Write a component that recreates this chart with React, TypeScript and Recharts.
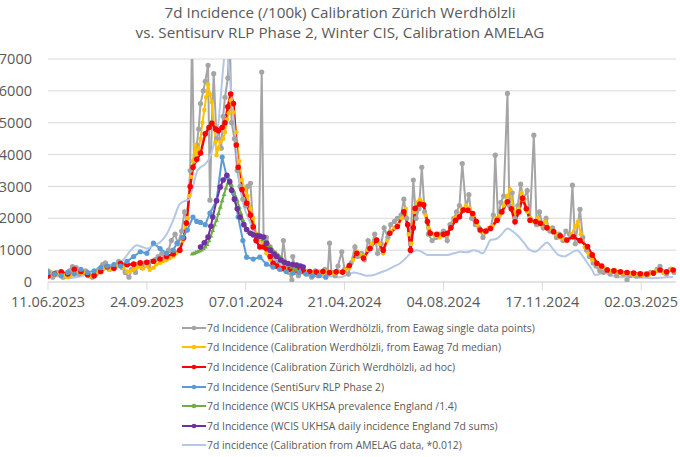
import React from 'react';
import { LineChart, Line, XAxis, YAxis, CartesianGrid } from 'recharts';

// days since 11.06.2023, value = 7d incidence per 100k
const xTicks = [0, 105, 210, 315, 420, 525, 630];
const xTickLabels = ['11.06.2023', '24.09.2023', '07.01.2024', '21.04.2024', '04.08.2024', '17.11.2024', '02.03.2025'];
const yTicks = [0, 1000, 2000, 3000, 4000, 5000, 6000, 7000];

const singlePoints: [number, number][] = [
  [0,350],[2,300],[5,150],[9,300],[12,250],[16,150],[19,200],[23,350],[26,480],[30,450],[33,250],[37,300],[40,350],[44,200],[47,150],[51,250],[54,400],[58,550],[61,600],[65,400],[68,450],[72,550],[75,650],[79,450],[82,300],[86,150],[89,400],[93,300],[96,550],[100,450],[103,600],[107,500],[110,650],[114,700],[117,800],[121,900],[124,750],[128,1000],[131,1300],[135,1500],[138,1200],[142,1600],[145,2200],[148,2000],[151,3500],[153,7800],[155,3800],[158,4300],[160,4800],[162,5600],[165,6000],[167,6300],[170,6800],[172,2570],[174,5000],[176,6540],[179,4500],[181,4800],[184,4200],[186,5200],[188,5800],[191,6400],[193,7800],[195,5000],[198,4500],[201,3500],[204,3000],[207,2600],[210,2400],[212,3000],[215,3100],[218,1700],[221,1500],[224,1400],[227,6590],[229,1300],[232,1400],[236,1100],[239,800],[243,600],[247,400],[250,1300],[253,500],[256,300],[259,60],[260,800],[263,300],[266,200],[270,400],[273,300],[277,250],[280,150],[284,350],[287,200],[291,300],[294,400],[297,250],[299,1220],[301,300],[305,200],[308,500],[312,950],[315,400],[319,250],[322,600],[326,1100],[329,800],[333,900],[336,700],[340,1300],[343,1100],[347,1500],[350,900],[354,1200],[357,1700],[361,1400],[364,1800],[368,1900],[371,2000],[375,2100],[378,2600],[381,2000],[385,1200],[388,3200],[391,2000],[394,2300],[397,3600],[400,2200],[404,1500],[408,1300],[412,1400],[416,1500],[420,1600],[424,1300],[427,1800],[431,2000],[434,2200],[437,2400],[440,3720],[444,2300],[447,2740],[450,2000],[454,1800],[458,1700],[462,1400],[466,1600],[470,1700],[473,2100],[475,3980],[478,2000],[481,2500],[484,2700],[488,5920],[490,2400],[493,2800],[496,2000],[499,2400],[502,3070],[505,2600],[509,2870],[512,2000],[516,4610],[519,1800],[522,2200],[526,1700],[529,2000],[533,1600],[536,1700],[540,1400],[543,1500],[547,1300],[550,1600],[554,1500],[557,3040],[560,1200],[565,2280],[568,1400],[572,1000],[575,800],[579,600],[582,500],[586,350],[590,300],[593,400],[597,250],[600,350],[604,200],[608,300],[611,250],[615,60],[618,200],[622,250],[625,180],[629,200],[632,250],[636,220],[640,300],[643,280],[647,400],[650,490],[654,300],[657,250],[661,400],[665,300],
];

const median7d: [number, number][] = [
  [0,250],[3,300],[7,200],[10,280],[14,250],[17,180],[21,160],[24,200],[28,300],[31,350],[35,280],[38,300],[42,200],[45,180],[49,220],[52,300],[56,350],[59,420],[63,450],[66,380],[70,400],[73,500],[77,550],[80,450],[84,330],[87,320],[91,400],[94,450],[98,480],[101,420],[105,500],[108,380],[112,450],[115,550],[119,600],[122,650],[126,690],[129,750],[133,800],[136,900],[140,1000],[143,1300],[146,1700],[148,2000],[150,2700],[152,3300],[154,3800],[156,4300],[158,4000],[160,4200],[162,4500],[164,5000],[166,5400],[168,5800],[170,6200],[172,5900],[174,5640],[176,5000],[178,4400],[179,3980],[181,4200],[183,4400],[186,4500],[188,4700],[190,5100],[192,5300],[194,5700],[197,5330],[200,4700],[203,3800],[206,3200],[209,2900],[212,2700],[215,2300],[218,2000],[221,1500],[224,1400],[228,1200],[232,900],[236,700],[240,600],[244,500],[248,420],[252,380],[256,350],[260,400],[264,380],[268,330],[272,300],[276,350],[280,280],[284,300],[288,330],[292,280],[296,320],[300,300],[304,280],[308,350],[312,300],[316,380],[320,450],[324,700],[328,950],[332,850],[336,800],[340,1000],[344,1200],[348,1350],[352,1200],[356,900],[360,1300],[364,1600],[368,1700],[372,1800],[376,2000],[380,2300],[383,1500],[386,1200],[389,2200],[392,2500],[395,2600],[398,2500],[401,2100],[404,1700],[408,1500],[412,1450],[416,1400],[420,1450],[424,1500],[428,1700],[432,2000],[436,2100],[440,2300],[444,2400],[448,2300],[452,2100],[456,1800],[460,1600],[464,1550],[468,1700],[472,1750],[476,2000],[480,2100],[484,2400],[488,2700],[491,2900],[494,2300],[497,1900],[500,2300],[503,2800],[506,2600],[509,2200],[512,2000],[516,1900],[520,2000],[524,1800],[528,1900],[532,1700],[536,1600],[540,1500],[544,1400],[548,1350],[552,1300],[556,1500],[560,1750],[563,1900],[566,1500],[570,1100],[574,900],[578,700],[582,600],[586,500],[590,450],[594,400],[598,350],[602,380],[606,300],[610,280],[614,260],[618,250],[622,230],[626,240],[630,220],[634,250],[638,230],[642,300],[646,350],[650,400],[654,300],[658,350],[662,420],[666,350],
];

const adHoc: [number, number][] = [
  [0,190],[7,260],[14,320],[21,250],[28,400],[35,330],[42,230],[49,200],[56,330],[63,480],[70,430],[77,580],[84,540],[91,560],[98,600],[105,620],[112,650],[119,720],[126,800],[133,880],[140,1000],[144,1380],[147,1850],[151,3000],[154,3600],[158,3850],[162,4050],[167,4650],[171,4850],[174,4980],[178,4800],[181,4750],[185,4850],[188,5000],[191,5500],[194,5900],[197,5600],[200,4300],[202,3600],[206,2900],[211,2470],[215,2100],[218,1730],[221,1300],[225,1100],[229,1100],[232,1050],[236,800],[239,590],[243,500],[250,430],[257,400],[264,380],[271,350],[278,330],[285,310],[292,330],[299,300],[306,320],[313,310],[320,520],[328,900],[335,750],[342,1050],[349,1320],[356,1000],[363,1530],[371,1740],[378,2200],[382,1800],[385,1000],[388,1700],[390,2310],[395,2450],[399,2420],[403,1900],[406,1530],[413,1500],[420,1500],[424,1530],[428,1700],[433,1940],[437,2050],[441,2260],[446,2250],[451,2150],[455,1900],[459,1630],[465,1600],[470,1680],[477,1940],[482,2200],[488,2520],[492,2300],[496,1890],[500,2200],[504,2630],[508,2300],[512,1940],[518,1900],[523,1840],[530,1700],[537,1580],[544,1450],[551,1320],[558,1420],[565,1300],[573,1110],[578,850],[583,590],[588,500],[594,375],[601,350],[608,320],[615,300],[622,280],[629,260],[636,250],[643,280],[650,375],[657,320],[664,375],
];

const sentiSurv: [number, number][] = [
  [0,300],[7,250],[14,200],[21,300],[28,250],[35,400],[42,300],[49,350],[56,450],[63,500],[70,550],[77,500],[84,650],[91,800],[98,950],[105,900],[112,1220],[119,1050],[126,900],[133,1000],[137,1220],[143,1400],[148,1630],[154,2040],[158,1900],[162,1870],[167,1800],[172,2160],[179,2570],[185,3920],[190,3290],[197,2790],[202,2040],[207,1300],[211,780],[218,720],[225,780],[232,560],[239,470],[246,400],[253,330],[260,280],[267,300],[274,250],[281,200],[288,200],[295,150],
];

const wcisPrevalence: [number, number][] = [
  [153,880],[155,900],[157,930],[159,950],[161,980],[163,1010],[165,1050],[167,1100],[169,1180],[171,1300],[173,1450],[175,1620],[177,1800],[179,1940],[181,2150],[183,2350],[185,2550],[187,2750],[189,2950],[191,3100],[193,3200],[195,3050],[197,2850],[199,2700],[201,2570],[203,2350],[205,2150],[207,1950],[209,1780],[211,1630],[213,1560],[216,1520],[219,1480],[222,1440],[225,1410],[228,1330],[231,1240],[234,1160],[236,1100],[239,1000],[242,920],[245,840],[248,760],[250,690],[253,620],[256,540],[259,470],[262,410],[264,375],
];

const wcisDaily: [number, number][] = [
  [162,1100],[166,1230],[170,1410],[173,1750],[175,2040],[179,2550],[183,2980],[186,3200],[190,3350],[193,3150],[195,2880],[198,2600],[201,2300],[204,2040],[208,1800],[211,1650],[215,1530],[218,1480],[222,1450],[225,1440],[229,1410],[232,1220],[236,1000],[240,880],[243,800],[247,690],[251,620],[255,580],[260,550],[264,530],[268,500],[271,470],
];

const amelag: [number, number][] = [
  [0,200],[10,180],[20,120],[30,150],[40,220],[50,280],[60,450],[70,550],[80,700],[88,1000],[94,1150],[100,1100],[106,1050],[112,1150],[119,1250],[126,1500],[133,1940],[140,2450],[146,2550],[150,2600],[154,3000],[158,3450],[162,3600],[167,3700],[172,3920],[176,4300],[181,5000],[184,6000],[187,7000],[189,7300],[192,6800],[195,5800],[197,5180],[200,4200],[204,3000],[208,2400],[212,2050],[215,1850],[220,1500],[225,1250],[232,1000],[240,750],[250,500],[260,380],[270,300],[280,250],[290,200],[300,180],[310,150],[320,250],[325,300],[332,250],[339,200],[346,220],[353,300],[360,375],[367,480],[374,590],[380,750],[385,900],[392,1000],[398,930],[403,850],[410,850],[417,850],[424,850],[431,900],[438,950],[445,930],[452,1000],[457,960],[462,900],[466,1100],[470,1320],[476,1350],[482,1500],[488,1680],[493,1600],[498,1480],[505,1250],[512,1000],[518,950],[524,1100],[530,1240],[536,1050],[542,850],[548,800],[555,900],[562,1000],[567,850],[573,590],[578,380],[581,220],[586,250],[590,320],[597,220],[604,160],[612,150],[620,160],[628,140],[636,130],[643,120],[650,130],[657,150],[664,160],
];

const toRows = (pts: [number, number][]) => pts.map(([d, v]) => ({ d, v }));

const Triangle = (props: any) => {
  const { cx, cy, fill } = props;
  if (cx == null || cy == null) return null;
  return <path d={`M${cx},${cy - 2.6}L${cx + 2.4},${cy + 1.6}L${cx - 2.4},${cy + 1.6}Z`} fill={fill} />;
};

const series = [
  { name: '7d Incidence (Calibration Werdhölzli, from Eawag single data points)', color: '#a5a5a5', data: singlePoints, width: 2, r: 2.6, marker: 'dot' },
  { name: '7d Incidence (Calibration Werdhölzli, from Eawag 7d median)', color: '#ffc000', data: median7d, width: 2, r: 2.2, marker: 'dot' },
  { name: '7d Incidence (Calibration Zürich Werdhölzli, ad hoc)', color: '#ff0000', data: adHoc, width: 2.5, r: 2.8, marker: 'dot' },
  { name: '7d Incidence (SentiSurv RLP Phase 2)', color: '#5b9bd5', data: sentiSurv, width: 2, r: 2.6, marker: 'dot' },
  { name: '7d Incidence (WCIS UKHSA prevalence England /1.4)', color: '#70ad47', data: wcisPrevalence, width: 2, r: 2.4, marker: 'tri' },
  { name: '7d Incidence (WCIS UKHSA daily incidence England 7d sums)', color: '#7030a0', data: wcisDaily, width: 2, r: 2.8, marker: 'dot' },
  { name: '7d incidence (Calibration from AMELAG data, *0.012)', color: '#b4c7e7', data: amelag, width: 2, r: 0, marker: 'none' },
];

const font = '"Open Sans", sans-serif';
const textColor = '#595959';

export default function App() {
  return (
    <div style={{ position: 'absolute', left: 0, top: 0, width: 680, height: 457, background: '#fff', fontFamily: font }}>
      <div style={{ position: 'absolute', top: 3, left: 0, width: 680, textAlign: 'center', fontSize: 15.2, lineHeight: '19.5px', color: textColor }}>
        7d Incidence (/100k) Calibration Zürich Werdhölzli<br />
        vs. Sentisurv RLP Phase 2, Winter CIS, Calibration AMELAG
      </div>
      <LineChart width={680} height={457} margin={{ top: 59, right: 4, bottom: 145, left: 0 }}>
        <CartesianGrid vertical={false} stroke="#d9d9d9" />
        <XAxis
          type="number"
          dataKey="d"
          domain={[0, 667]}
          ticks={xTicks}
          tickFormatter={(d: number) => xTickLabels[xTicks.indexOf(d)] ?? ''}
          allowDataOverflow
          height={30}
          stroke="#d9d9d9"
          tickSize={8}
          tickMargin={7}
          tick={{ fill: textColor, fontSize: 14.5, fontFamily: font }}
        />
        <YAxis
          type="number"
          domain={[0, 7000]}
          ticks={yTicks}
          allowDataOverflow
          width={48}
          axisLine={false}
          tickLine={false}
          tickMargin={10}
          tick={{ fill: textColor, fontSize: 14.5, fontFamily: font }}
        />
        {series.map((s) => (
          <Line
            key={s.name}
            data={toRows(s.data)}
            dataKey="v"
            type={s.marker === 'none' ? 'monotone' : 'linear'}
            stroke={s.color}
            strokeWidth={s.width}
            dot={
              s.marker === 'none'
                ? false
                : s.marker === 'tri'
                ? <Triangle fill={s.color} />
                : { r: s.r, fill: s.color, stroke: s.color, strokeWidth: 0 }
            }
            activeDot={false}
            isAnimationActive={false}
          />
        ))}
      </LineChart>
      <div style={{ position: 'absolute', left: 182, top: 318, fontSize: 10.4, color: textColor }}>
        {series.map((s) => (
          <div key={s.name} style={{ height: 19.6, display: 'flex', alignItems: 'center' }}>
            <svg width={24} height={8} style={{ marginRight: 1 }}>
              <line x1={0} y1={4} x2={24} y2={4} stroke={s.color} strokeWidth={2} />
              {s.marker !== 'none' && <circle cx={12} cy={4} r={2.3} fill={s.color} />}
            </svg>
            <span>{s.name}</span>
          </div>
        ))}
      </div>
    </div>
  );
}
